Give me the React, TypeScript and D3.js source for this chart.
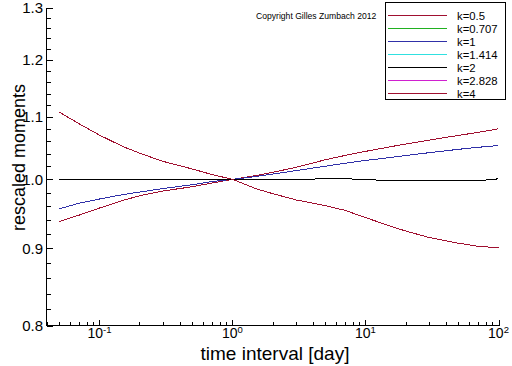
import React from "react";
import * as d3 from "d3";

const timeIntervals = [0.05, 0.07, 0.1, 0.15, 0.2, 0.3, 0.5, 0.7, 1, 1.5, 2, 3, 5, 7, 10, 15, 20, 30, 50, 70, 100];

const momentK05 = [0.9377, 0.9467, 0.9571, 0.9683, 0.9752, 0.9824, 0.9888, 0.9944, 1.0, 1.0057, 1.0108, 1.0184, 1.0304, 1.0371, 1.0436, 1.0506, 1.0554, 1.0617, 1.0694, 1.0743, 1.0802];
const momentK1 = [0.956, 0.9641, 0.9704, 0.977, 0.9807, 0.9861, 0.9918, 0.9967, 1.0, 1.0043, 1.008, 1.0134, 1.0203, 1.0248, 1.0293, 1.0336, 1.0369, 1.0415, 1.0469, 1.0501, 1.053];
const momentK2 = [1, 1, 1, 1, 1, 1, 1, 1, 1, 1, 1, 1, 1.0008, 1.0008, 1.0, 0.9978, 0.9978, 0.9978, 0.9978, 0.9978, 1.0008];
const momentK4 = [1.108, 1.0888, 1.0699, 1.0514, 1.0408, 1.0279, 1.0159, 1.0074, 1.0, 0.9858, 0.9785, 0.9691, 0.9606, 0.9538, 0.9434, 0.9316, 0.9242, 0.9151, 0.9071, 0.9029, 0.9008];

const legendLabels = ["k=0.5", "k=0.707", "k=1", "k=1.414", "k=2", "k=2.828", "k=4"];
const legendColors = ["#a01030", "#20b020", "#3030a8", "#30e0e0", "#000000", "#d020d0", "#a01030"];

const yMajorTicks = [0.8, 0.9, 1.0, 1.1, 1.2, 1.3];
const xMajorTicks = [0.1, 1, 10, 100];
const xTickExponents = ["-1", "0", "1", "2"];

const W = 512;
const H = 366;

export default function App() {
  const x = d3.scaleLog().domain([0.04, 100]).range([46.5, 498.5]);
  const y = d3.scaleLog().domain([0.8, 1.3]).range([325.5, 7.5]);

  const series = [
    { values: momentK05, color: legendColors[0] },
    { values: momentK1, color: legendColors[2] },
    { values: momentK2, color: legendColors[4] },
    { values: momentK4, color: legendColors[6] },
  ];

  const line = d3
    .line<number>()
    .x((_, i) => x(timeIntervals[i]))
    .y((d) => y(d));

  const yMinor: number[] = [];
  for (let v = 0.8; v <= 1.3001; v += 0.02) {
    const r = Math.round(v * 100) / 100;
    if (!yMajorTicks.some((m) => Math.abs(m - r) < 1e-6)) yMinor.push(r);
  }
  const xMinor: number[] = [];
  for (const dec of [0.01, 0.1, 1, 10]) {
    for (let m = 2; m <= 9; m++) {
      const v = dec * m;
      if (v >= 0.04 && v <= 100) xMinor.push(v);
    }
  }

  const font = "'Liberation Sans', Arial, Helvetica, sans-serif";
  const x0 = 46.5;
  const y0 = 325.5;

  return (
    <svg width={W} height={H} style={{ position: "absolute", left: 0, top: 0, background: "#fff" }} fontFamily={font}>
      <rect x={0} y={0} width={W} height={H} fill="#fff" />
      {/* curves */}
      <g fill="none" strokeWidth={1} shapeRendering="crispEdges">
        {series.map((s, i) => (
          <path key={i} d={line(s.values) || ""} stroke={s.color} />
        ))}
      </g>
      {/* axes */}
      <g stroke="#000" strokeWidth={1} shapeRendering="crispEdges">
        <line x1={x0} y1={y(1.3)} x2={x0} y2={y0} />
        <line x1={x0} y1={y0} x2={x(100)} y2={y0} />
        {yMajorTicks.map((v) => (
          <line key={"ym" + v} x1={x0} x2={x0 + 6} y1={Math.round(y(v)) + 0.5} y2={Math.round(y(v)) + 0.5} />
        ))}
        {yMinor.map((v) => (
          <line key={"yn" + v} x1={x0} x2={x0 + 4} y1={Math.round(y(v)) + 0.5} y2={Math.round(y(v)) + 0.5} />
        ))}
        {xMajorTicks.map((v) => (
          <line key={"xm" + v} x1={Math.round(x(v)) + 0.5} x2={Math.round(x(v)) + 0.5} y1={y0} y2={y0 - 6} />
        ))}
        {xMinor.map((v) => (
          <line key={"xn" + v} x1={Math.round(x(v)) + 0.5} x2={Math.round(x(v)) + 0.5} y1={y0} y2={y0 - 4} />
        ))}
      </g>
      {/* y tick labels */}
      <g fontSize={15} fill="#000" textAnchor="end">
        {yMajorTicks.map((v) => (
          <text key={"yl" + v} x={43} y={y(v) + 5.5}>
            {v.toFixed(1)}
          </text>
        ))}
      </g>
      {/* x tick labels */}
      <g fill="#000" textAnchor="middle">
        {xMajorTicks.map((v, i) => (
          <text key={"xl" + v} x={x(v)} y={338} fontSize={14}>
            10
            <tspan dy={-5.5} fontSize={9.5}>
              {xTickExponents[i]}
            </tspan>
          </text>
        ))}
      </g>
      {/* axis titles */}
      <text x={275} y={360} fontSize={19} textAnchor="middle" fill="#000">
        time interval [day]
      </text>
      <text transform="translate(25,157.5) rotate(-90)" fontSize={18} textAnchor="middle" fill="#000">
        rescaled moments
      </text>
      {/* copyright */}
      <text x={256} y={18.5} fontSize={8.6} fill="#000">
        Copyright Gilles Zumbach 2012
      </text>
      {/* legend */}
      <rect x={385.5} y={2.5} width={120} height={96.5} fill="#fff" stroke="#000" strokeWidth={1} shapeRendering="crispEdges" />
      {legendLabels.map((lab, i) => {
        const ly = Math.round(14.5 + i * 13) + 0.5;
        return (
          <g key={lab}>
            <line x1={388} x2={447} y1={ly} y2={ly} stroke={legendColors[i]} strokeWidth={1} shapeRendering="crispEdges" />
            <text x={457} y={ly + 4.2} fontSize={11.3} fill="#000">
              {lab}
            </text>
          </g>
        );
      })}
    </svg>
  );
}
